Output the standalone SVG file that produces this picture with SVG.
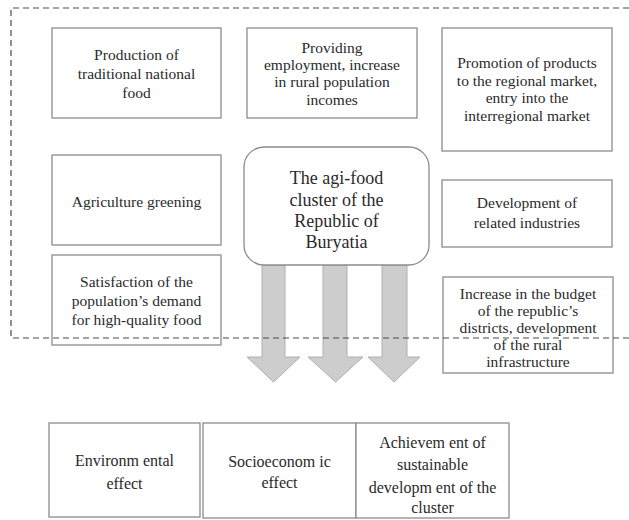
<svg xmlns="http://www.w3.org/2000/svg" width="629" height="520" viewBox="0 0 629 520">
<style>
.box{fill:#ffffff;stroke:#8c8c8c;stroke-width:1.3}
.t{font-family:"Liberation Serif","DejaVu Serif","Times New Roman",serif;font-size:15.5px;fill:#2a2a2a;text-anchor:middle}
.c{font-size:18px}
.b{font-size:16px}
.arrow{fill:#cdcdcd;stroke:#b0b0b0;stroke-width:1}
.frame{fill:none;stroke:#4a4a4a;stroke-width:1.2;stroke-dasharray:6 4}
</style>
<rect width="629" height="520" fill="#ffffff"/>
<g id="connectors">
<polygon class="arrow" points="262,265 285,265 285,357 300,357 273.5,382 247,357 262,357"/>
<polygon class="arrow" points="323,265 347,265 347,357 363,357 335.5,382 308,357 323,357"/>
<polygon class="arrow" points="382,265 407,265 407,357 420,357 394,382 368,357 382,357"/>
</g>
<g id="n-production">
<rect class="box" x="52" y="28" width="169" height="90"/>
<text class="t" x="136.5" y="60">Production of</text>
<text class="t" x="136.5" y="79">traditional national</text>
<text class="t" x="136.5" y="98">food</text>
</g>
<g id="n-employment">
<rect class="box" x="247" y="28" width="170" height="90"/>
<text class="t" x="332" y="53">Providing</text>
<text class="t" x="332" y="70">employment, increase</text>
<text class="t" x="332" y="87">in rural population</text>
<text class="t" x="332" y="105">incomes</text>
</g>
<g id="n-promotion">
<rect class="box" x="442" y="28" width="170" height="123"/>
<text class="t" x="527" y="68">Promotion of products</text>
<text class="t" x="527" y="86">to the regional market,</text>
<text class="t" x="527" y="103">entry into the</text>
<text class="t" x="527" y="121">interregional market</text>
</g>
<g id="n-greening">
<rect class="box" x="52" y="155" width="169" height="90"/>
<text class="t" x="136.5" y="207">Agriculture greening</text>
</g>
<g id="n-satisfaction">
<rect class="box" x="52" y="255" width="169" height="90"/>
<text class="t" x="136.5" y="287">Satisfaction of the</text>
<text class="t" x="136.5" y="306">population’s demand</text>
<text class="t" x="136.5" y="325">for high-quality food</text>
</g>
<g id="n-cluster">
<rect class="box" x="244" y="147" width="185" height="118" rx="20" ry="20"/>
<text class="t c" x="336.5" y="184">The agi-food</text>
<text class="t c" x="336.5" y="206">cluster of the</text>
<text class="t c" x="336.5" y="227">Republic of</text>
<text class="t c" x="336.5" y="248">Buryatia</text>
</g>
<g id="n-related">
<rect class="box" x="442" y="180" width="170" height="67"/>
<text class="t" x="527" y="208">Development of</text>
<text class="t" x="527" y="228">related industries</text>
</g>
<g id="n-budget">
<rect class="box" x="443" y="277" width="170" height="96"/>
<text class="t" x="528" y="299">Increase in the budget</text>
<text class="t" x="528" y="316">of the republic’s</text>
<text class="t" x="528" y="333">districts, development</text>
<text class="t" x="528" y="350">of the rural</text>
<text class="t" x="528" y="367">infrastructure</text>
</g>
<g id="n-environmental">
<rect class="box" x="49" y="423" width="151" height="94"/>
<text class="t b" x="124.5" y="466">Environm ental</text>
<text class="t b" x="124.5" y="489">effect</text>
</g>
<g id="n-socioeconomic">
<rect class="box" x="203" y="423" width="153" height="95"/>
<text class="t b" x="279.5" y="467">Socioeconom ic</text>
<text class="t b" x="279.5" y="488">effect</text>
</g>
<g id="n-sustainable">
<rect class="box" x="356" y="423" width="153" height="95"/>
<text class="t b" x="432.5" y="448">Achievem ent of</text>
<text class="t b" x="432.5" y="470">sustainable</text>
<text class="t b" x="432.5" y="493">developm ent of the</text>
<text class="t b" x="432.5" y="513">cluster</text>
</g>
<g id="frame">
<polyline class="frame" points="629,8 11,8 11,338 629,338"/>
</g>
</svg>
